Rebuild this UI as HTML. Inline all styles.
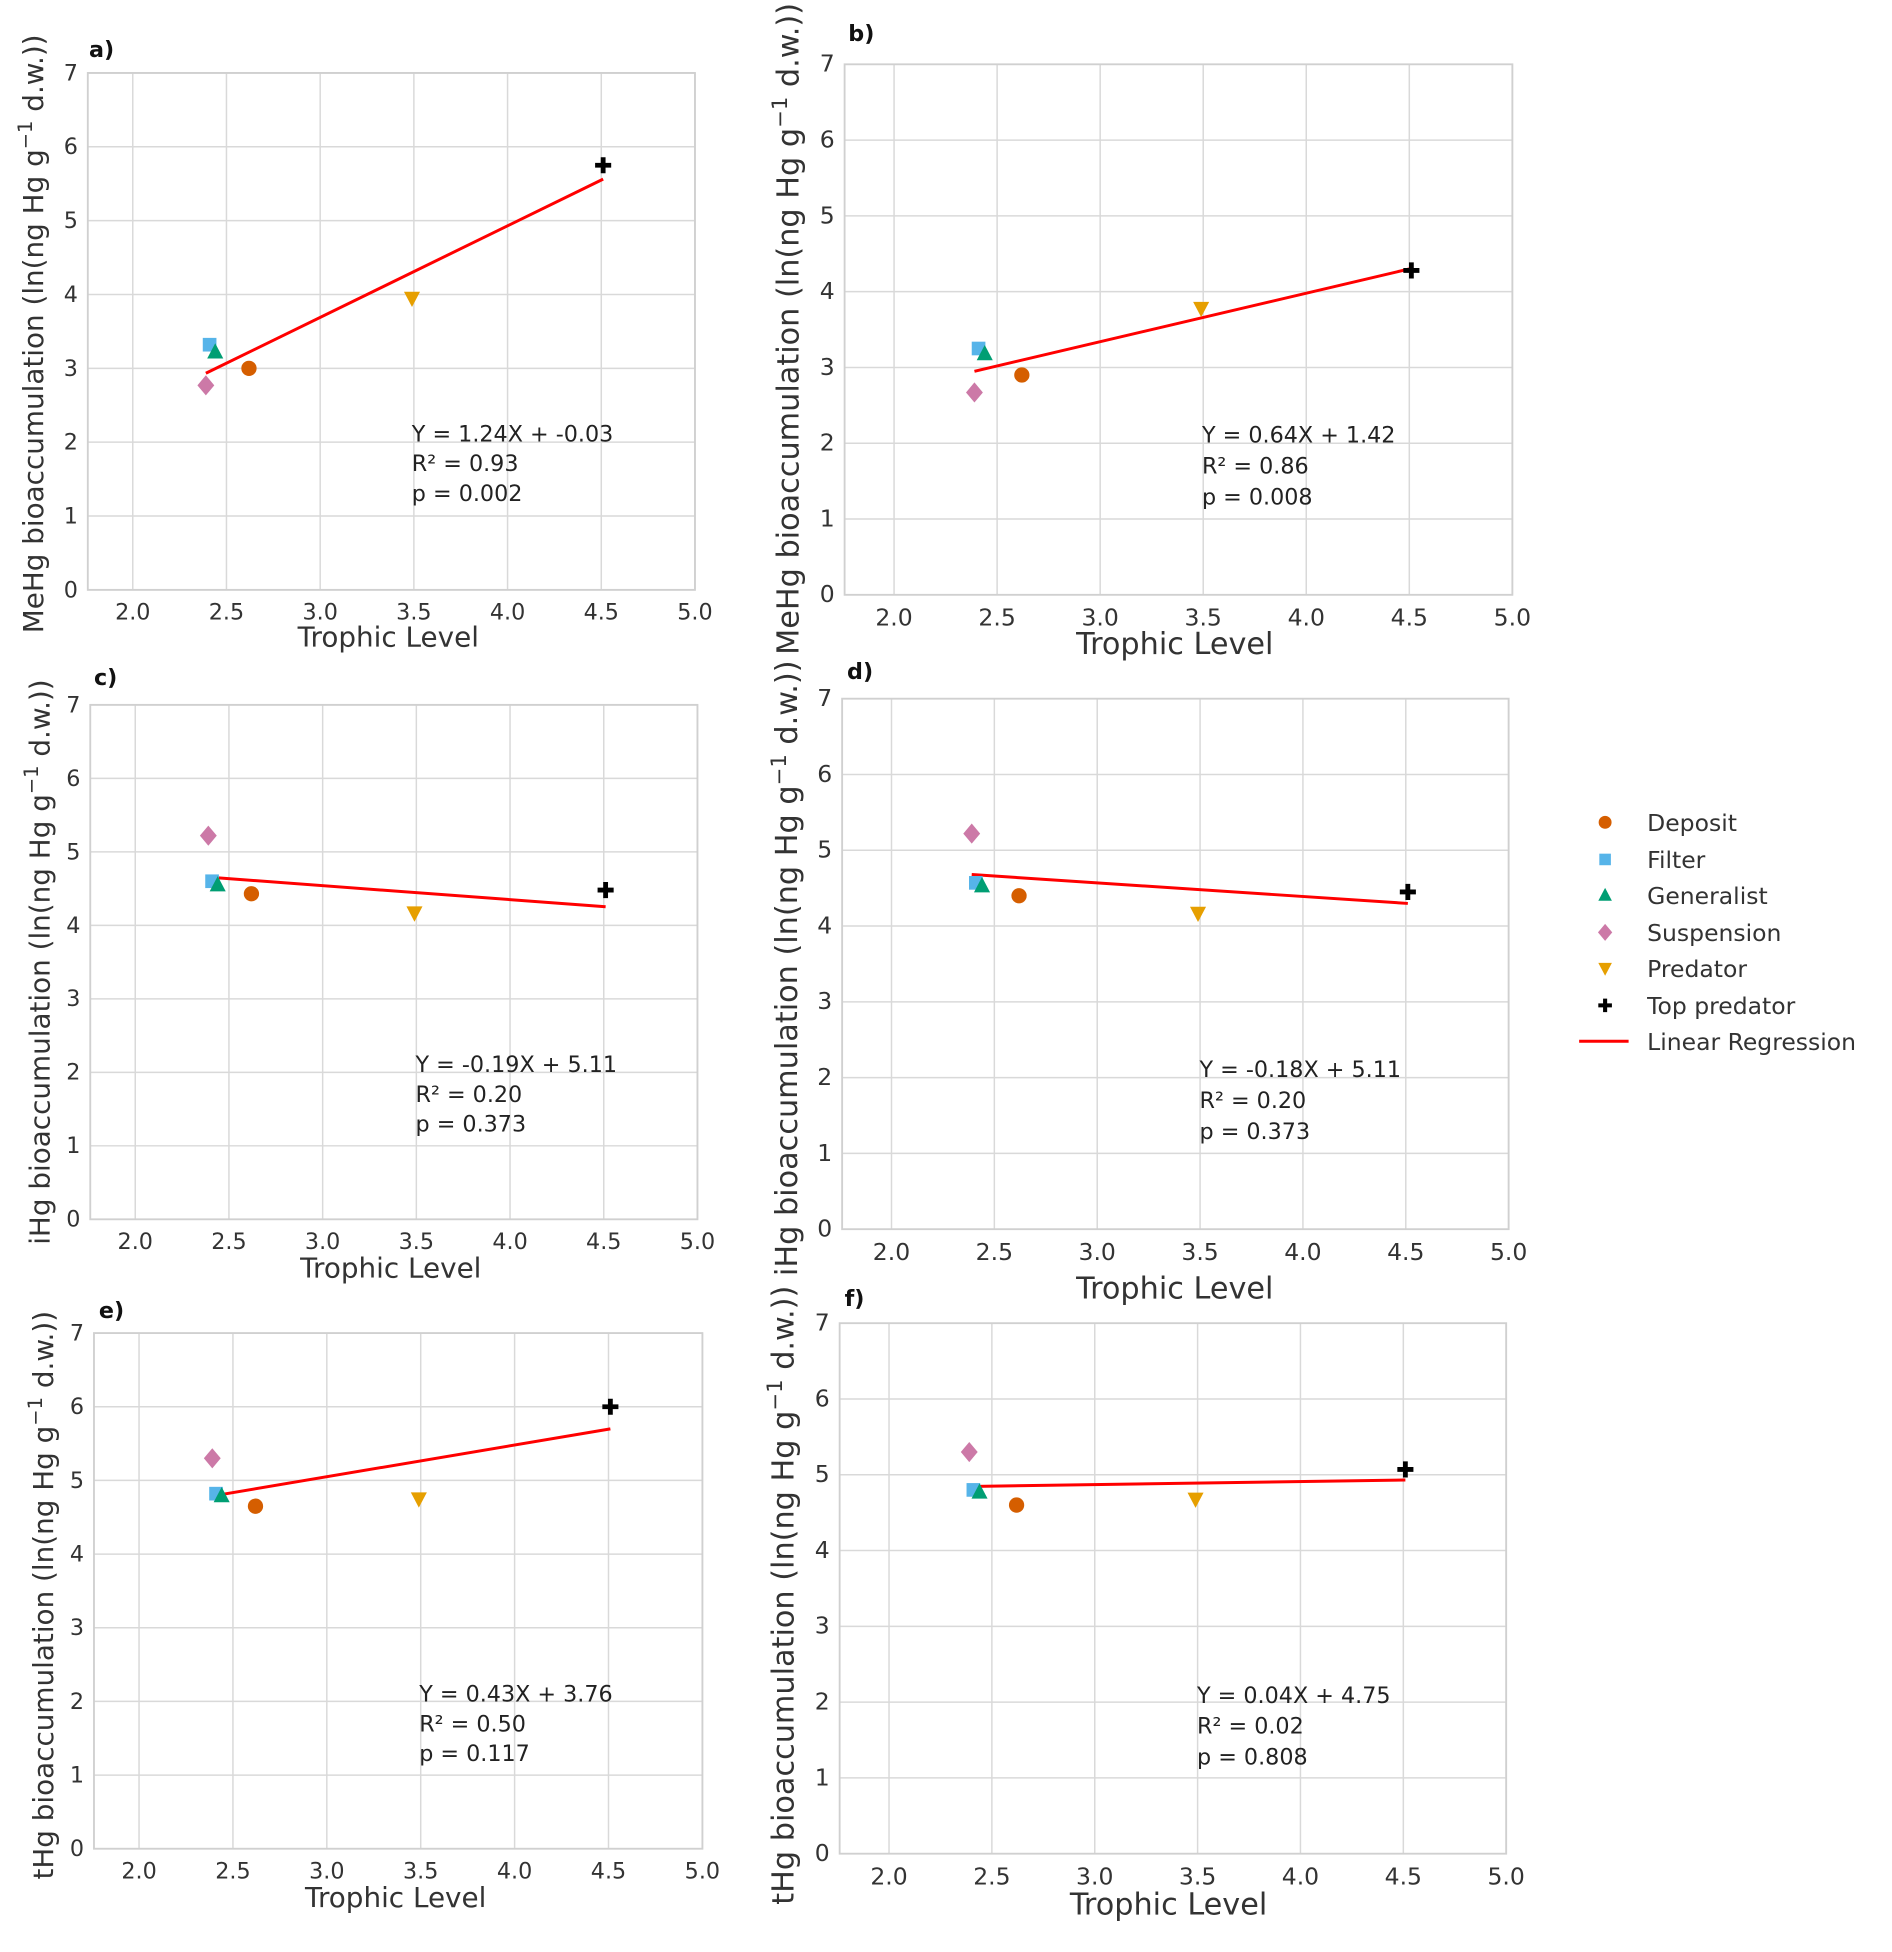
<!DOCTYPE html>
<html><head><meta charset="utf-8">
<style>
html,body{margin:0;padding:0;background:#fff;}
svg{display:block;}
text{font-family:"DejaVu Sans","Liberation Sans",sans-serif;}
</style></head>
<body>
<svg id="fig" width="1892" height="1952" viewBox="0 0 1530 1578.5" preserveAspectRatio="none" xmlns="http://www.w3.org/2000/svg"></svg>
<script>
// ---- data ----
const groups = ["Deposit","Filter","Generalist","Suspension","Predator","Top predator"];
const trophicLevels = [2.62, 2.41, 2.44, 2.39, 3.49, 4.51];
const meHgValues = [3.0, 3.32, 3.22, 2.77, 3.95, 5.75];
const meHgValuesB = [2.9, 3.25, 3.18, 2.67, 3.78, 4.28];
const iHgValues = [4.43, 4.6, 4.55, 5.22, 4.17, 4.48];
const iHgValuesD = [4.4, 4.57, 4.53, 5.22, 4.17, 4.45];
const tHgValues = [4.65, 4.82, 4.79, 5.3, 4.75, 6.0];
const tHgValuesF = [4.6, 4.8, 4.77, 5.3, 4.68, 5.07];
const slopes = [1.24, 0.64, -0.19, -0.18, 0.43, 0.04];
const intercepts = [-0.03, 1.42, 5.11, 5.11, 3.76, 4.75];
const r2Values = ["0.93","0.86","0.20","0.20","0.50","0.02"];
const pValues = ["0.002","0.008","0.373","0.373","0.117","0.808"];
const xTicks = [2.0, 2.5, 3.0, 3.5, 4.0, 4.5, 5.0];
const yTicks = [0,1,2,3,4,5,6,7];
const xMin = 1.76, xMax = 5.0, yMin = 0, yMax = 7;

const colors = ["#d55e00","#56b4e9","#009e73","#cc79a7","#e69f00","#000000"];
const shapes = ["circle","square","triangle","diamond","tridown","plus"];

const panels = [
 {id:"a", left:71, right:562, top:59, bottom:477, vals:meHgValues, ylab:"MeHg", ylx:27, yly:270, xt:[314,523], xs:22.5, ann:[333,357], annGap:24, lab:[72,46], axs:18},
 {id:"b", left:683, right:1223, top:52, bottom:481, vals:meHgValuesB, ylx:637, yly:266, ylab:"MeHg", xt:[950,529], xs:24.5, ann:[972,358], annGap:25, lab:[686,33], axs:19},
 {id:"c", left:73, right:564, top:570, bottom:986, vals:iHgValues, ylab:"iHg", ylx:32, yly:778, xt:[316,1033], xs:22.5, ann:[336,867], annGap:24, lab:[76,554], axs:18},
 {id:"d", left:681, right:1220, top:565, bottom:994, vals:iHgValuesD, ylab:"iHg", ylx:636, yly:783, xt:[950,1050], xs:24.5, ann:[970,871], annGap:25, lab:[685,549], axs:19},
 {id:"e", left:76, right:568, top:1078, bottom:1495, vals:tHgValues, ylab:"tHg", ylx:35, yly:1290, xt:[320,1542], xs:22.5, ann:[339,1376], annGap:24, lab:[80,1066], axs:18},
 {id:"f", left:679, right:1218, top:1070, bottom:1499, vals:tHgValuesF, ylab:"tHg", ylx:633, yly:1290, xt:[945,1548], xs:24.5, ann:[968,1377], annGap:25, lab:[683,1056], axs:19}
];

const NS = "http://www.w3.org/2000/svg";
const svg = document.getElementById("fig");
function mk(tag, attrs, parent){
  const e = document.createElementNS(NS, tag);
  for (const k in attrs) e.setAttribute(k, attrs[k]);
  (parent||svg).appendChild(e);
  return e;
}
function marker(g, shape, cx, cy, col, s){
  let e;
  if (shape==="circle") e = mk("circle",{cx:cx,cy:cy,r:s*0.95,fill:col},g);
  else if (shape==="square") e = mk("rect",{x:cx-s*0.85,y:cy-s*0.85,width:s*1.7,height:s*1.7,fill:col},g);
  else if (shape==="triangle") e = mk("polygon",{points:`${cx},${cy-s*1.1} ${cx+s},${cy+s*0.8} ${cx-s},${cy+s*0.8}`,fill:col},g);
  else if (shape==="tridown") e = mk("polygon",{points:`${cx},${cy+s*1.1} ${cx+s},${cy-s*0.8} ${cx-s},${cy-s*0.8}`,fill:col},g);
  else if (shape==="diamond") e = mk("polygon",{points:`${cx},${cy-s*1.25} ${cx+s*1.05},${cy} ${cx},${cy+s*1.25} ${cx-s*1.05},${cy}`,fill:col},g);
  else { e = mk("path",{d:`M${cx-s} ${cy}H${cx+s}M${cx} ${cy-s}V${cy+s}`,stroke:col,"stroke-width":s*0.6,fill:"none"},g); }
  return e;
}

panels.forEach((p, pi) => {
  const g = mk("g",{});
  
  
  const sx = v => p.left + (v - xMin) / (xMax - xMin) * (p.right - p.left);
  const sy = v => p.bottom - (v - yMin) / (yMax - yMin) * (p.bottom - p.top);
  xTicks.forEach(t => {
    const l = mk("line",{x1:sx(t),x2:sx(t),y1:p.top,y2:p.bottom,stroke:"#d9d9d9","stroke-width":1.2},g);
    
    
    const tx = mk("text",{x:sx(t),y:p.bottom+p.axs+6,"text-anchor":"middle","font-size":p.axs,fill:"#333"},g);
    tx.textContent = t.toFixed(1);
    
    
  });
  yTicks.forEach(t => {
    const l = mk("line",{x1:p.left,x2:p.right,y1:sy(t),y2:sy(t),stroke:"#d9d9d9","stroke-width":1.2},g);
    
    
    const tx = mk("text",{x:p.left-8,y:sy(t)+6,"text-anchor":"end","font-size":p.axs,fill:"#333"},g);
    tx.textContent = t;
    
    
  });
  const fr = mk("rect",{x:p.left,y:p.top,width:p.right-p.left,height:p.bottom-p.top,fill:"none",stroke:"#d0d0d0","stroke-width":1.5},g);
  
  
  const x0 = Math.min(...trophicLevels), x1 = Math.max(...trophicLevels);
  const rl = mk("line",{x1:sx(x0),y1:sy(slopes[pi]*x0+intercepts[pi]),x2:sx(x1),y2:sy(slopes[pi]*x1+intercepts[pi]),stroke:"#ff0000","stroke-width":2.4},g);
  
  
  groups.forEach((gr, i) => {
    const m = marker(g, shapes[i], sx(trophicLevels[i]), sy(p.vals[i]), colors[i], 6.5);
    
    
  });
  const a1 = mk("text",{x:p.ann[0],y:p.ann[1],"font-size":18,fill:"#222"},g);
  a1.textContent = "Y = " + slopes[pi].toFixed(2) + "X + " + intercepts[pi].toFixed(2);
  
  
  const a2 = mk("text",{x:p.ann[0],y:p.ann[1]+p.annGap,"font-size":18,fill:"#222"},g);
  a2.textContent = "R² = " + r2Values[pi];
  
  
  const a3 = mk("text",{x:p.ann[0],y:p.ann[1]+2*p.annGap,"font-size":18,fill:"#222"},g);
  a3.textContent = "p = " + pValues[pi];
  
  
  const xt = mk("text",{x:p.xt[0],y:p.xt[1],"text-anchor":"middle","font-size":p.xs,fill:"#333"},g);
  xt.textContent = "Trophic Level";
  
  
  const yt = mk("text",{x:0,y:0,"text-anchor":"middle","font-size":p.xs,fill:"#333",transform:`translate(${p.ylx+p.xs*0.35},${p.yly}) rotate(-90)`},g);
  
  
  const t1 = mk("tspan",{},yt); t1.textContent = p.ylab + " bioaccumulation (ln(ng Hg g";
  const t2 = mk("tspan",{dy:-9,"font-size":p.xs*0.7},yt); t2.textContent = "−1";
  const t3 = mk("tspan",{dy:9},yt); t3.textContent = " d.w.))";
  const lb = mk("text",{x:p.lab[0],y:p.lab[1],"font-size":18,"font-weight":"bold",fill:"#111"},g);
  lb.textContent = p.id + ")";
  
  
});

const lg = mk("g",{});


const legendRows = [665,695,724,754,783,813];
groups.forEach((gr,i) => {
  const m = marker(lg, shapes[i], 1298, legendRows[i], colors[i], 5.5);
  
  
  const t = mk("text",{x:1332,y:legendRows[i]+7,"font-size":19,fill:"#333"},lg);
  t.textContent = gr;
  
  
});
const ll = mk("line",{x1:1277,x2:1317,y1:842,y2:842,stroke:"#ff0000","stroke-width":2.4},lg);


const lt = mk("text",{x:1332,y:849,"font-size":19,fill:"#333"},lg);
lt.textContent = "Linear Regression";


</script>
</body></html>
